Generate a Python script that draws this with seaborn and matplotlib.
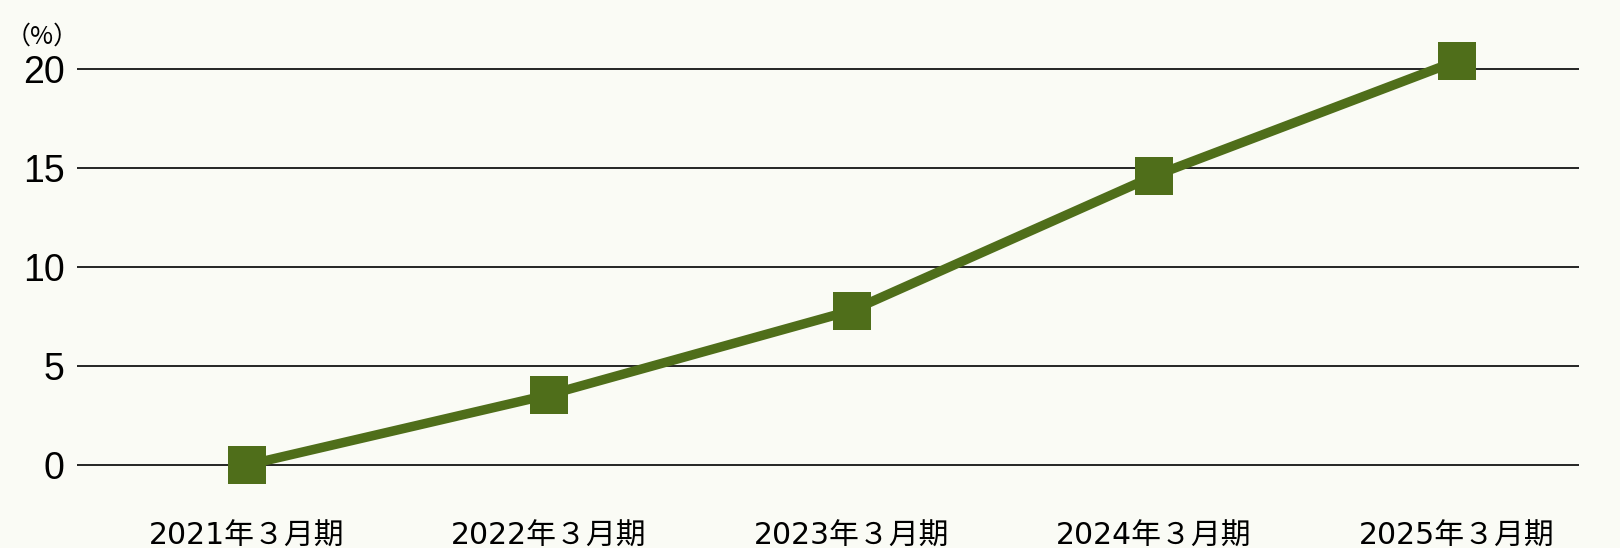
#!/usr/bin/env python3
"""Line chart of yearly percentage, March fiscal year ends 2021-2025."""

import matplotlib

matplotlib.use("Agg")
import matplotlib.pyplot as plt
import pandas as pd
import seaborn as sns

periods = ["2021年３月期", "2022年３月期", "2023年３月期", "2024年３月期", "2025年３月期"]
values = [0.0, 3.55, 7.8, 14.6, 20.4]
y_ticks = [0, 5, 10, 15, 20]

LINE_COLOR = "#4F6E1A"
BG = "#FAFBF5"

sns.set_theme(style="white")
plt.rcParams["font.family"] = ["Noto Sans CJK JP", "DejaVu Sans"]

df = pd.DataFrame({"period": periods, "value": values})

fig = plt.figure(figsize=(16.2, 5.48), dpi=100, facecolor=BG)
ax = fig.add_axes([77 / 1620, 1 - 495 / 548, (1579 - 77) / 1620, (495 - 30) / 548])
ax.set_facecolor(BG)

sns.lineplot(
    data=df,
    x="period",
    y="value",
    color=LINE_COLOR,
    linewidth=6.8,
    marker="s",
    markersize=28,
    markeredgewidth=0,
    ax=ax,
    zorder=3,
)

ax.set_xlim(-0.561, 4.405)
ax.set_ylim(-1.515, 21.97)
ax.set_yticks(y_ticks)
ax.set_yticklabels([str(t) for t in y_ticks], family=["Liberation Sans", "DejaVu Sans"], fontsize=27)
ax.set_xticks(range(len(periods)))
ax.set_xticklabels(periods, fontsize=21.5, family=["DejaVu Sans", "Noto Sans CJK JP"])
ax.tick_params(axis="y", length=0, pad=9, labelcolor="black")
ax.tick_params(axis="x", length=0, pad=19, labelcolor="black")
ax.grid(axis="y", color="black", linewidth=1.2)
ax.set_axisbelow(True)
for side in ax.spines.values():
    side.set_visible(False)
ax.set_xlabel("")
ax.set_ylabel("")

fig.text(6 / 1620, 1 - 37 / 548, "（%）", fontsize=18, ha="left", va="center",
         color="black", family=["Noto Sans CJK JP", "DejaVu Sans"])

fig.savefig("out.png", dpi=100, facecolor=BG)
